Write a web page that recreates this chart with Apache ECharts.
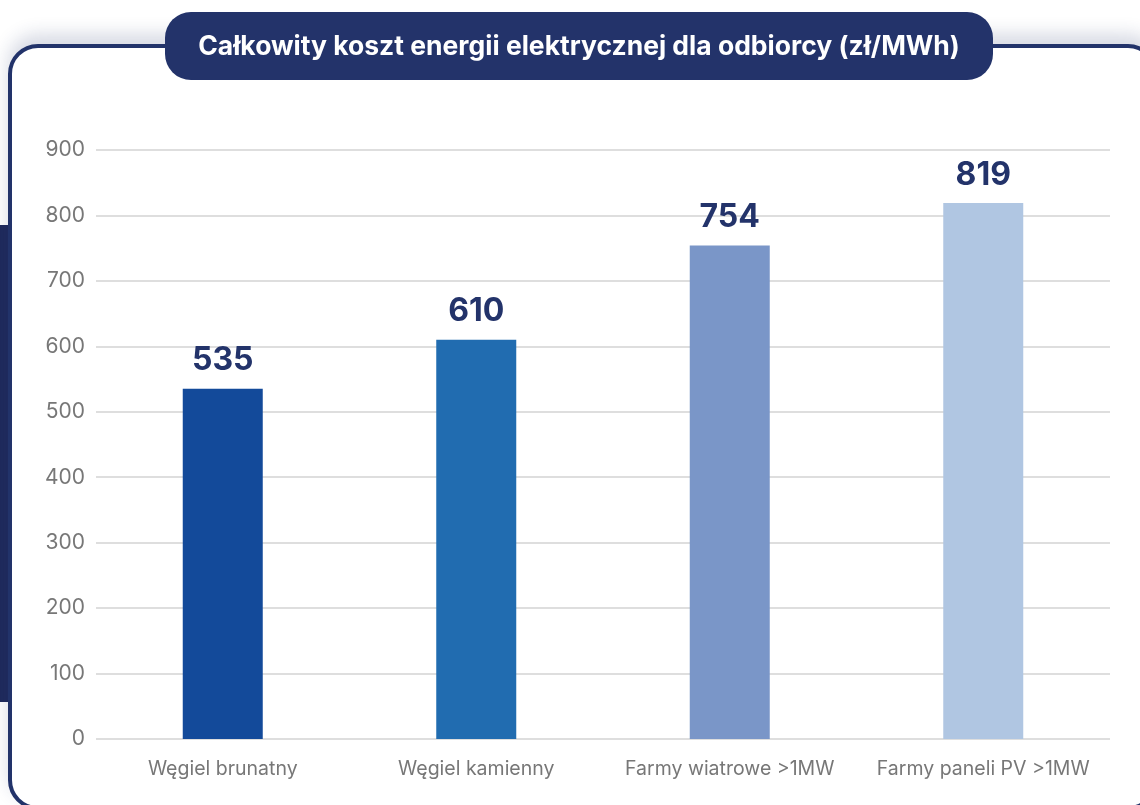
<!DOCTYPE html>
<html>
<head>
<meta charset="utf-8">
<script src="https://cdn.jsdelivr.net/npm/echarts@6/dist/echarts.min.js"></script>
<style>
  html, body { margin: 0; padding: 0; background: #ffffff; overflow: hidden; }
  .side-bar {
    position: absolute; left: 0; top: 225px; width: 10px; height: 477px;
    background: #1f2a5c;
  }
  .card {
    position: absolute; left: 8px; top: 44px; width: 1150px; height: 766px;
    border: 4px solid #22336a; border-radius: 30px; background: #ffffff;
    box-shadow: 0 -10px 18px rgba(34, 51, 106, 0.18);
    box-sizing: border-box;
  }
  #chart { position: absolute; left: 0; top: 0; width: 1140px; height: 805px; }
</style>
</head>
<body>
<div class="side-bar"></div>
<div class="card"></div>
<div id="chart"></div>
<script>
const categories = ['Węgiel brunatny', 'Węgiel kamienny', 'Farmy wiatrowe >1MW', 'Farmy paneli PV >1MW']
const values = [535, 610, 754, 819]
const barColors = ['#134a9a', '#216cb0', '#7a96c8', '#b0c6e2']
const titleText = 'Całkowity koszt energii elektrycznej dla odbiorcy (zł/MWh)'

const chart = echarts.init(document.getElementById('chart'))

const option = {
  backgroundColor: 'transparent',
  textStyle: { fontFamily: 'Inter, "Noto Sans", sans-serif' },
  graphic: [
    {
      type: 'rect',
      shape: { x: 165, y: 12, width: 828, height: 68, r: 26 },
      style: { fill: '#23336a' },
      z: 10
    },
    {
      type: 'text',
      x: 579,
      y: 47,
      style: {
        text: titleText,
        fill: '#ffffff',
        font: 'bold 26.5px Inter, "Noto Sans", sans-serif',
        textAlign: 'center',
        textVerticalAlign: 'middle'
      },
      z: 11
    }
  ],
  grid: {
    left: 96,
    right: 30,
    top: 150,
    bottom: 66
  },
  xAxis: {
    type: 'category',
    data: categories,
    axisLine: { show: false },
    axisTick: { show: false },
    axisLabel: {
      interval: 0,
      color: '#777777',
      fontSize: 19.5,
      margin: 20
    }
  },
  yAxis: {
    type: 'value',
    min: 0,
    max: 900,
    interval: 100,
    axisLine: { show: false },
    axisTick: { show: false },
    axisLabel: {
      color: '#777777',
      fontSize: 21,
      margin: 11
    },
    splitLine: { lineStyle: { color: '#dedede', width: 2 } }
  },
  series: [
    {
      type: 'bar',
      data: values.map((v, i) => ({ value: v, itemStyle: { color: barColors[i] } })),
      barWidth: 80,
      label: {
        show: true,
        position: 'top',
        distance: 12,
        color: '#23336a',
        fontSize: 32,
        fontWeight: 'bold'
      }
    }
  ]
}

chart.setOption(option)
</script>
</body>
</html>
